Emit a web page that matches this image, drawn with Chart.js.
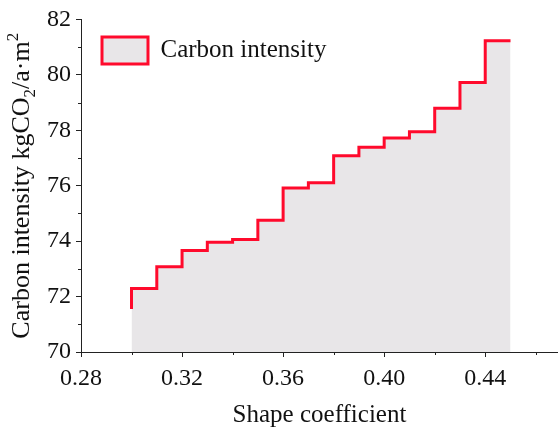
<!DOCTYPE html>
<html>
<head>
<meta charset="utf-8">
<script src="https://cdn.jsdelivr.net/npm/chart.js@4/dist/chart.umd.min.js"></script>
<style>
  html, body { margin: 0; padding: 0; background: #fff; overflow: hidden; }
  #wrap { width: 558px; height: 437px; }
</style>
</head>
<body>
<div id="wrap"><canvas id="chart"></canvas></div>
<script>
// shape coefficient vs carbon intensity (step plot)
const shapeCoef = [0.30, 0.31, 0.32, 0.33, 0.34, 0.35, 0.36, 0.37, 0.38, 0.39, 0.40, 0.41, 0.42, 0.43, 0.44, 0.45];
const carbonIntensity = [71.55, 72.29, 73.08, 73.66, 73.96, 74.06, 74.75, 75.92, 76.11, 77.08, 77.39, 77.72, 77.95, 78.79, 79.72, 81.23];
const seriesName = 'Carbon intensity';
const xTitle = 'Shape coefficient';
const xMinorTicks = [0.30, 0.34, 0.38, 0.42, 0.46];
const yMinorTicks = [71, 73, 75, 77, 79, 81];

const serif = "'Liberation Serif', 'Times New Roman', serif";
const red = '#ff0a2c';

// minor ticks + y title with sub/superscript
const extras = {
    id: 'extras',
    afterDraw(chart) {
        const ctx = chart.ctx;
        const xs = chart.scales.x, ys = chart.scales.y;
        ctx.save();
        ctx.strokeStyle = '#222';
        ctx.lineWidth = 1;
        ctx.beginPath();
        xMinorTicks.forEach(v => {
            const px = Math.round(xs.getPixelForValue(v)) + 0.5;
            ctx.moveTo(px, xs.top);
            ctx.lineTo(px, xs.top + 3);
        });
        yMinorTicks.forEach(v => {
            const py = Math.round(ys.getPixelForValue(v)) + 0.5;
            ctx.moveTo(ys.right, py);
            ctx.lineTo(ys.right - 3, py);
        });
        ctx.stroke();

        // y axis title
        const parts = [
            { t: 'Carbon intensity kgCO', size: 26, dy: 0 },
            { t: '2', size: 17, dy: 6 },
            { t: '/a\u00b7m', size: 26, dy: 0 },
            { t: '2', size: 17, dy: -11 }
        ];
        let total = 0;
        parts.forEach(p => {
            ctx.font = p.size + 'px ' + serif;
            p.w = ctx.measureText(p.t).width;
            total += p.w;
        });
        const cy = (chart.chartArea.top + chart.chartArea.bottom) / 2;
        ctx.translate(29, cy);
        ctx.rotate(-Math.PI / 2);
        ctx.fillStyle = '#111';
        ctx.textBaseline = 'alphabetic';
        let x = -total / 2;
        parts.forEach(p => {
            ctx.font = p.size + 'px ' + serif;
            ctx.fillText(p.t, x, p.dy);
            x += p.w;
        });
        ctx.restore();
    }
};

const ctx = document.getElementById('chart').getContext('2d');
new Chart(ctx, {
    type: 'line',
    data: {
        datasets: [{
            label: seriesName,
            data: shapeCoef.map((x, i) => ({ x: x, y: carbonIntensity[i] })),
            stepped: 'after',
            borderColor: red,
            borderWidth: 3,
            backgroundColor: '#e8e6e8',
            fill: 'start',
            pointRadius: 0
        }]
    },
    options: {
        responsive: true,
        maintainAspectRatio: false,
        animation: false,
        layout: { padding: { top: 15, right: 0, left: 0, bottom: 0 } },
        plugins: {
            legend: {
                position: 'chartArea',
                align: 'start',
                title: {
                    display: true,
                    text: ' ',
                    font: { size: 10 },
                    padding: { top: 0, bottom: 4 }
                },
                labels: {
                    boxWidth: 46,
                    boxHeight: 27,
                    padding: 21,
                    color: '#111',
                    font: { family: serif, size: 25 }
                }
            },
            tooltip: { enabled: false }
        },
        scales: {
            x: {
                type: 'linear',
                min: 0.28,
                max: 0.4688,
                border: { color: '#222', width: 1 },
                grid: { drawOnChartArea: false, drawTicks: true, tickLength: 5, color: '#222' },
                ticks: {
                    stepSize: 0.04,
                    includeBounds: false,
                    autoSkip: false,
                    maxRotation: 0,
                    padding: 7,
                    color: '#111',
                    font: { family: serif, size: 24 },
                    callback: v => v.toFixed(2)
                },
                title: {
                    display: true,
                    text: xTitle,
                    color: '#111',
                    font: { family: serif, size: 25 },
                    padding: { top: 8, bottom: 7 }
                },
                afterFit(scale) { scale.height = 85; }
            },
            y: {
                min: 70,
                max: 82,
                border: { color: '#222', width: 1 },
                grid: { drawOnChartArea: false, drawTicks: true, tickLength: 5, color: '#222' },
                ticks: {
                    stepSize: 2,
                    padding: 5,
                    color: '#111',
                    font: { family: serif, size: 24 }
                },
                afterFit(scale) { scale.width = 81; }
            }
        }
    },
    plugins: [extras]
});
</script>
</body>
</html>
